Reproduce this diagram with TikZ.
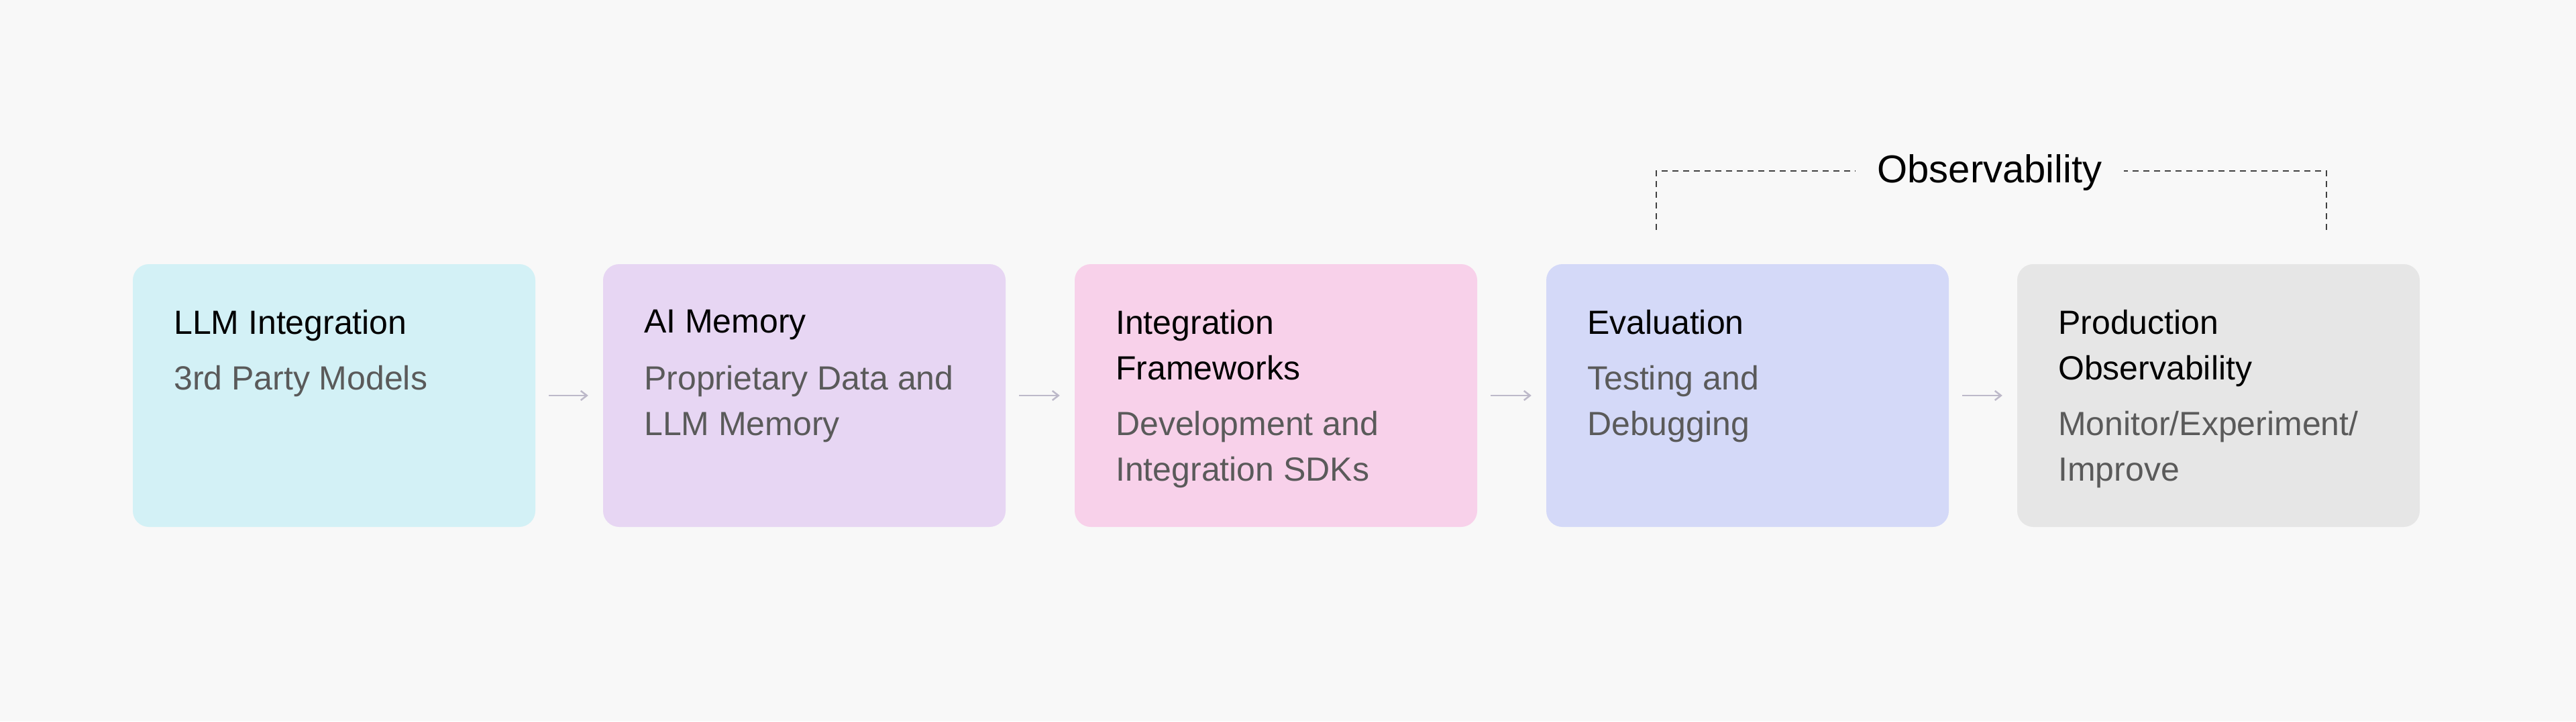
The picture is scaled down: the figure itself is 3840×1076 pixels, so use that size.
\documentclass[tikz,border=0pt]{standalone}
\usepackage{fontspec}
\setmainfont{Liberation Sans}
\usetikzlibrary{arrows.meta}
\definecolor{bg}{HTML}{F8F8F8}
\definecolor{cA}{HTML}{D3F1F6}
\definecolor{cB}{HTML}{E7D6F3}
\definecolor{cC}{HTML}{F8D1EA}
\definecolor{cD}{HTML}{D4D9F8}
\definecolor{cE}{HTML}{E6E6E6}
\definecolor{sub}{HTML}{5A5A5A}
\definecolor{arr}{HTML}{BDB9C9}
\begin{document}
\begin{tikzpicture}[x=1pt,y=-1pt,
  box/.style={minimum width=600pt,minimum height=392pt,rounded corners=24pt,draw=none,inner sep=0pt},
  ttl/.style={anchor=north west,align=left,inner sep=0pt,font=\fontsize{50}{68}\selectfont,text=black},
  sb/.style={anchor=north west,align=left,inner sep=0pt,font=\fontsize{50}{68}\selectfont,text=sub},
  ar/.style={draw=arr,line width=2.5pt,-{Straight Barb[length=9pt,width=14pt]},shorten <=20pt,shorten >=22pt},
  dsh/.style={draw=black!75,line width=2.5pt,dash pattern=on 9pt off 7pt}]
\fill[bg] (0,0) rectangle (3840,1076);
\useasboundingbox (0,0) rectangle (3840,1076);
\foreach \n/\x/\c in {b1/498/cA,b2/1199/cB,b3/1902/cC,b4/2605/cD,b5/3307/cE}{
  \node[box,fill=\c] (\n) at (\x,590) {};
}
\node[ttl] (t1) at (259,462) {LLM Integration};
\node[sb]  (s1) at (259,545) {3rd Party Models};
\node[ttl] (t2) at (960,462) {AI Memory};
\node[sb]  (s2) at (960,545) {Proprietary Data and\\LLM Memory};
\node[ttl] (t3) at (1663,462) {Integration\\Frameworks};
\node[sb]  (s3) at (1663,613) {Development and\\Integration SDKs};
\node[ttl] (t4) at (2366,462) {Evaluation};
\node[sb]  (s4) at (2366,545) {Testing and\\Debugging};
\node[ttl] (t5) at (3068,462) {Production\\Observability};
\node[sb]  (s5) at (3068,613) {Monitor/Experiment/\\Improve};
\foreach \a/\b in {b1/b2,b2/b3,b3/b4,b4/b5}{
  \draw[ar] (\a.east) -- (\b.west);
}
\node[font=\fontsize{58}{64}\selectfont,inner sep=0pt] (obs) at (2966,258) {Observability};
\coordinate (l1) at (2469,343);
\coordinate (l2) at (2469,255);
\coordinate (r1) at (3468,343);
\coordinate (r2) at (3468,255);
\draw[dsh] (l1) -- (l2) -- ([xshift=-32pt]obs.west |- l2);
\draw[dsh] (r1) -- (r2) -- ([xshift=32pt]obs.east |- r2);
\end{tikzpicture}
\end{document}
